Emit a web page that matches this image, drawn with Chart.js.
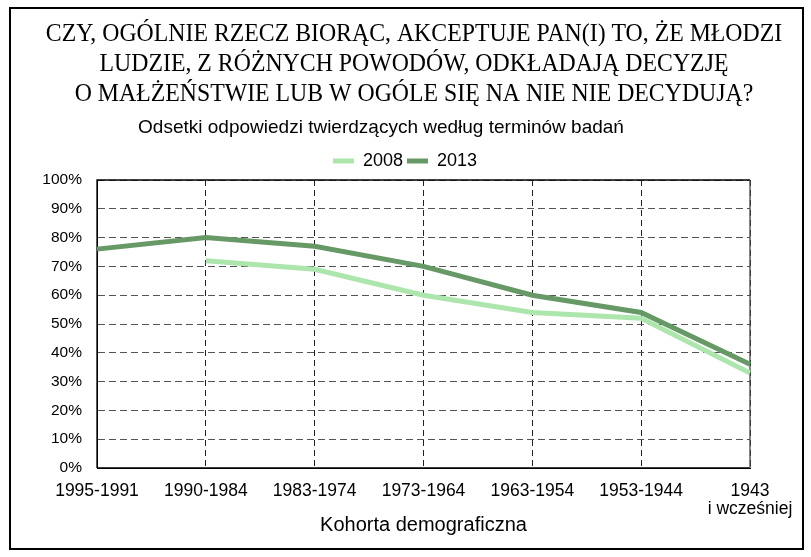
<!DOCTYPE html>
<html>
<head>
<meta charset="utf-8">
<script src="https://cdn.jsdelivr.net/npm/chart.js@4"></script>
<style>
  html, body { margin: 0; padding: 0; background: #fff; }
  #wrap { width: 811px; height: 557px; position: relative; }
</style>
</head>
<body>
<div id="wrap"><canvas id="c" width="811" height="557"></canvas></div>
<script>
const titleLines = [
  "CZY, OGÓLNIE RZECZ BIORĄC, AKCEPTUJE PAN(I) TO, ŻE MŁODZI",
  "LUDZIE, Z RÓŻNYCH POWODÓW, ODKŁADAJĄ DECYZJĘ",
  "O MAŁŻEŃSTWIE LUB W OGÓLE SIĘ NA NIE NIE DECYDUJĄ?"
];
const subtitleText = "Odsetki odpowiedzi twierdzących według terminów badań";
const xAxisTitle = "Kohorta demograficzna";
const categories = [
  "1995-1991", "1990-1984", "1983-1974", "1973-1964",
  "1963-1954", "1953-1944", ["1943", "i wcześniej"]
];
const series2008 = [null, 72, 69, 60, 54, 52, 33];
const series2013 = [76, 80, 77, 70, 60, 54, 36];
const yTicks = [0, 10, 20, 30, 40, 50, 60, 70, 80, 90, 100];

const SANS = '"Liberation Sans", Arial, sans-serif';
const SERIF = '"Liberation Serif", "Times New Roman", serif';

const headPlugin = {
  id: 'head',
  afterLayout(chart) {
    // center the legend on the full canvas like the reference
    if (chart.legend) { chart.legend.left += 20; chart.legend.right += 20; }
  },
  afterDraw(chart) {
    const {ctx} = chart;
    ctx.save();
    ctx.fillStyle = '#000';
    ctx.textAlign = 'center';
    ctx.textBaseline = 'alphabetic';
    ctx.font = '26px ' + SERIF;
    const baselines = [41, 70.5, 100.5];
    titleLines.forEach((t, i) => {
      ctx.save();
      ctx.translate(414, baselines[i]);
      ctx.scale(0.915, 1);
      ctx.fillText(t, 0, 0);
      ctx.restore();
    });
    ctx.font = '19px ' + SANS;
    ctx.fillText(subtitleText, 381, 133);
    ctx.restore();
    ctx.save();
    ctx.strokeStyle = '#000';
    ctx.lineWidth = 2;
    ctx.strokeRect(10, 8, 793, 541);
    ctx.restore();
  },
  beforeDatasetsDraw(chart) {
    const {ctx, chartArea: a} = chart;
    ctx.save();
    ctx.strokeStyle = '#000';
    ctx.lineWidth = 1.3;
    ctx.beginPath();
    ctx.moveTo(a.left, a.bottom);
    ctx.lineTo(a.left, a.top);
    ctx.lineTo(a.right, a.top);
    ctx.moveTo(a.left, a.bottom);
    ctx.lineTo(a.right, a.bottom);
    ctx.stroke();
    ctx.strokeStyle = '#444';
    ctx.beginPath();
    ctx.moveTo(a.right, a.top);
    ctx.lineTo(a.right, a.bottom);
    ctx.stroke();
    ctx.restore();
  }
};

new Chart(document.getElementById('c'), {
  type: 'line',
  data: {
    labels: categories,
    datasets: [
      { label: '2008', data: series2008, borderColor: '#ade6ad', backgroundColor: '#ade6ad',
        borderWidth: 5, pointRadius: 0, tension: 0, fill: false },
      { label: '2013', data: series2013, borderColor: '#669966', backgroundColor: '#669966',
        borderWidth: 5, pointRadius: 0, tension: 0, fill: false }
    ]
  },
  options: {
    responsive: false,
    animation: false,
    devicePixelRatio: 1,
    layout: { padding: { left: 20, right: 61, top: 148, bottom: 20 } },
    plugins: {
      title: { display: false },
      subtitle: { display: false },
      legend: {
        display: true,
        labels: {
          usePointStyle: true,
          pointStyle: 'line',
          pointStyleWidth: 21,
          boxWidth: 21,
          padding: 4,
          color: '#000',
          font: { family: SANS, size: 18 }
        }
      },
      tooltip: { enabled: false }
    },
    scales: {
      x: {
        offset: false,
        grid: { color: '#222', lineWidth: 1, drawTicks: false },
        border: { display: true, color: '#000', dash: [6, 4] },
        ticks: { color: '#000', maxRotation: 0, autoSkip: false, padding: 14,
          font: { family: SANS, size: 17.5, lineHeight: 1.05 } },
        title: { display: true, text: xAxisTitle, color: '#000', padding: { top: 0, bottom: 0 },
          font: { family: SANS, size: 20, lineHeight: 1.2 } },
        afterFit(scale) { scale.height = 69; scale.paddingLeft = 0; scale.paddingRight = 0; }
      },
      y: {
        min: 0, max: 100,
        grid: { color: '#555', lineWidth: 1, drawTicks: false },
        border: { display: true, color: '#000', dash: [7, 4] },
        afterBuildTicks(scale) { scale.ticks = yTicks.map(v => ({ value: v })); },
        ticks: { color: '#000', padding: 15,
          callback: v => v + '%',
          font: { family: SANS, size: 15.5 } },
        afterFit(scale) { scale.width = 77; scale.paddingTop = 0; scale.paddingBottom = 0; }
      }
    }
  },
  plugins: [headPlugin]
});
</script>
</body>
</html>
